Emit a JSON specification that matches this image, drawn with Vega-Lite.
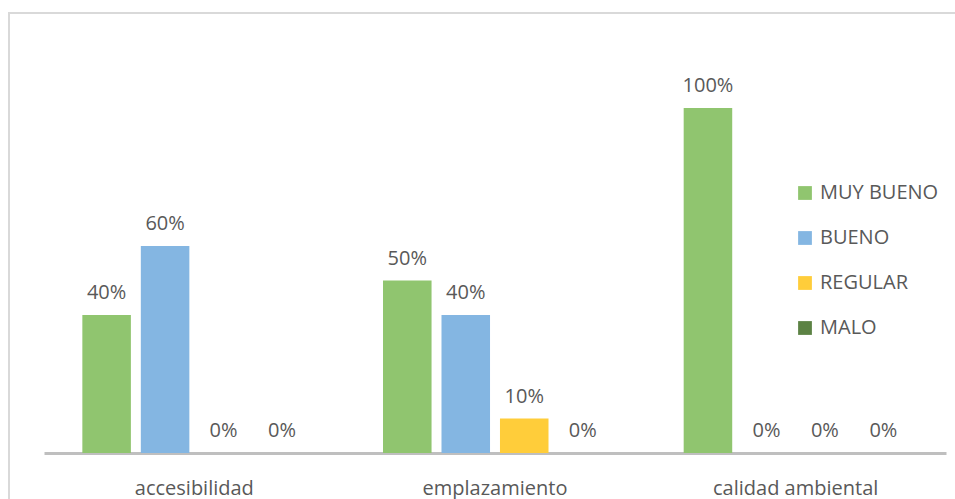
{
  "$schema": "https://vega.github.io/schema/vega-lite/v6.json",
  "width": 951,
  "height": 490,
  "autosize": {"type": "none"},
  "padding": {"left": 9, "top": 13, "right": 0, "bottom": 0},
  "background": "white",
  "config": {
    "view": {"stroke": "#d9d9d9", "strokeWidth": 2},
    "font": "Open Sans"
  },
  "data": {
    "values": [
      {"cat": "accesibilidad", "serie": "MUY BUENO", "v": 0.4},
      {"cat": "accesibilidad", "serie": "BUENO", "v": 0.6},
      {"cat": "accesibilidad", "serie": "REGULAR", "v": 0.0},
      {"cat": "accesibilidad", "serie": "MALO", "v": 0.0},
      {"cat": "emplazamiento", "serie": "MUY BUENO", "v": 0.5},
      {"cat": "emplazamiento", "serie": "BUENO", "v": 0.4},
      {"cat": "emplazamiento", "serie": "REGULAR", "v": 0.1},
      {"cat": "emplazamiento", "serie": "MALO", "v": 0.0},
      {"cat": "calidad ambiental", "serie": "MUY BUENO", "v": 1.0},
      {"cat": "calidad ambiental", "serie": "BUENO", "v": 0.0},
      {"cat": "calidad ambiental", "serie": "REGULAR", "v": 0.0},
      {"cat": "calidad ambiental", "serie": "MALO", "v": 0.0}
    ]
  },
  "encoding": {
    "x": {
      "field": "cat", "type": "nominal", "sort": null,
      "scale": {"range": [35, 937], "paddingInner": 0.222, "paddingOuter": 0.111},
      "axis": {
        "title": null, "orient": "bottom", "offset": -50, "labelAngle": 0,
        "ticks": false, "domainColor": "#bfbfbf", "domainWidth": 3,
        "labelFontSize": 20, "labelColor": "#595959", "labelPadding": 25
      }
    },
    "xOffset": {
      "field": "serie", "type": "nominal",
      "sort": ["MUY BUENO", "BUENO", "REGULAR", "MALO"],
      "scale": {"paddingInner": 0.17, "paddingOuter": 0.085}
    },
    "y": {
      "field": "v", "type": "quantitative",
      "scale": {"domain": [0, 1], "range": [440, 95], "nice": false, "zero": true},
      "axis": null
    }
  },
  "layer": [
    {
      "mark": {"type": "bar"},
      "encoding": {
        "color": {
          "field": "serie", "type": "nominal",
          "sort": ["MUY BUENO", "BUENO", "REGULAR", "MALO"],
          "scale": {
            "domain": ["MUY BUENO", "BUENO", "REGULAR", "MALO"],
            "range": ["#90c56f", "#84b6e2", "#ffcd3a", "#5c8244"]
          },
          "legend": {
            "title": null, "orient": "none", "legendX": 786, "legendY": 170,
            "symbolType": "square", "symbolSize": 190, "symbolStrokeWidth": 0,
            "labelFontSize": 20, "labelColor": "#595959", "rowPadding": 25,
            "labelOffset": 5
          }
        }
      }
    },
    {
      "mark": {"type": "text", "baseline": "alphabetic", "dy": -16, "fontSize": 20, "color": "#595959"},
      "encoding": {
        "text": {"field": "v", "type": "quantitative", "format": ".0%"}
      }
    }
  ]
}
